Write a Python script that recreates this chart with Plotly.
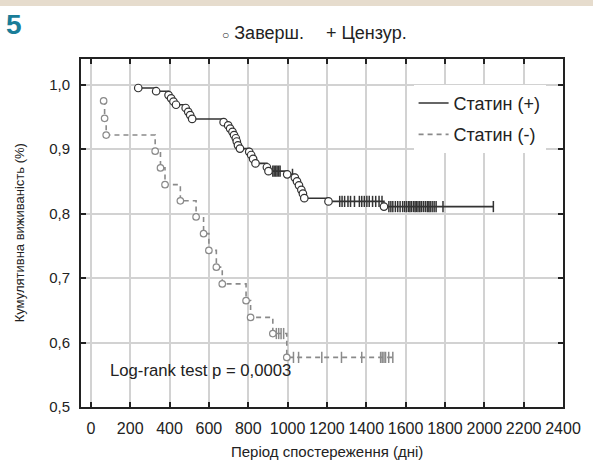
import plotly.graph_objects as go

# ---- data ----
pos_event_days = [241, 332, 395, 408, 420, 433, 482, 495, 505, 515, 675, 698, 708, 720, 728, 737, 742, 748,
                  758, 805, 815, 825, 837, 895, 903, 998, 1037, 1048, 1058, 1070, 1078, 1085, 1208, 1490]
pos_event_surv = [0.995, 0.990, 0.984, 0.979, 0.974, 0.969, 0.964, 0.958, 0.953, 0.947, 0.942, 0.937, 0.932,
                  0.927, 0.922, 0.917, 0.912, 0.906, 0.901, 0.896, 0.891, 0.885, 0.878, 0.872, 0.866, 0.861,
                  0.856, 0.850, 0.844, 0.837, 0.831, 0.824, 0.819, 0.811]
pos_cens_days = [925, 932, 940, 947, 955, 962, 1025,
                 1265, 1277, 1290, 1307, 1320, 1340, 1365, 1377, 1390, 1403, 1415, 1432, 1448, 1465, 1480,
                 1515, 1525, 1535, 1548, 1560, 1572, 1585, 1595, 1605, 1615, 1622, 1630, 1640, 1648, 1655,
                 1663, 1672, 1680, 1690, 1700, 1710, 1718, 1725, 1735, 1745, 1755, 1790, 2046]
pos_cens_surv = [0.866, 0.866, 0.866, 0.866, 0.866, 0.866, 0.861,
                 0.819, 0.819, 0.819, 0.819, 0.819, 0.819, 0.819, 0.819, 0.819, 0.819, 0.819, 0.819, 0.819,
                 0.819, 0.819,
                 0.811, 0.811, 0.811, 0.811, 0.811, 0.811, 0.811, 0.811, 0.811, 0.811, 0.811, 0.811, 0.811,
                 0.811, 0.811, 0.811, 0.811, 0.811, 0.811, 0.811, 0.811, 0.811, 0.811, 0.811, 0.811, 0.811,
                 0.811, 0.811]

neg_event_days = [65, 70, 78, 327, 354, 377, 455, 535, 573, 600, 638, 668, 789, 812, 925, 996]
neg_event_surv = [0.975, 0.948, 0.922, 0.897, 0.871, 0.845, 0.820, 0.795, 0.769, 0.743, 0.717, 0.691,
                  0.665, 0.639, 0.614, 0.577]
neg_cens_days = [943, 955, 967, 980, 1030, 1056, 1174, 1274, 1377, 1473, 1481, 1490, 1498, 1514, 1535]
neg_cens_surv = [0.614, 0.614, 0.614, 0.614, 0.577, 0.577, 0.577, 0.577, 0.577, 0.577, 0.577, 0.577,
                 0.577, 0.577, 0.577]

x_ticks = [0, 200, 400, 600, 800, 1000, 1200, 1400, 1600, 1800, 2000, 2200, 2400]
y_ticks = [0.5, 0.6, 0.7, 0.8, 0.9, 1.0]
y_ticktext = ["0,5", "0,6", "0,7", "0,8", "0,9", "1,0"]

series_names = ["Статин (+)", "Статин (-)"]
header_done = "Заверш."
header_cens = "Цензур."
x_title = "Період спостереження (дні)"
y_title = "Кумулятивна виживаність (%)"
logrank_text = "Log-rank test p = 0,0003"
panel_label = "5"

FONT = "Liberation Sans, Arial, sans-serif"
DARK = "#333333"
GREY = "#8a8a8a"
TXT = "#222222"


def step_points(ev_d, ev_s, ce_d, ce_s):
    pts = sorted(list(zip(ev_d, ev_s)) + list(zip(ce_d, ce_s)), key=lambda p: p[0])
    return [p[0] for p in pts], [p[1] for p in pts]


fig = go.Figure()

px_, py_ = step_points(pos_event_days, pos_event_surv, pos_cens_days, pos_cens_surv)
nx_, ny_ = step_points(neg_event_days, neg_event_surv, neg_cens_days, neg_cens_surv)

fig.add_trace(go.Scatter(x=px_, y=py_, mode="lines", line=dict(color=DARK, width=1.6, shape="hv"),
                         name=series_names[0], legendgroup="a"))
fig.add_trace(go.Scatter(x=nx_, y=ny_, mode="lines", line=dict(color=GREY, width=1.6, shape="hv", dash="5px,4px"),
                         name=series_names[1], legendgroup="b"))

# censored marks
fig.add_trace(go.Scatter(x=pos_cens_days, y=pos_cens_surv, mode="markers", showlegend=False,
                         marker=dict(symbol="line-ns", size=8, line=dict(color=DARK, width=1.5))))
fig.add_trace(go.Scatter(x=neg_cens_days, y=neg_cens_surv, mode="markers", showlegend=False,
                         marker=dict(symbol="line-ns", size=8, line=dict(color=GREY, width=1.5))))
# events
fig.add_trace(go.Scatter(x=pos_event_days, y=pos_event_surv, mode="markers", showlegend=False,
                         marker=dict(symbol="circle", size=7.5, color="white", line=dict(color=DARK, width=1.2))))
fig.add_trace(go.Scatter(x=neg_event_days, y=neg_event_surv, mode="markers", showlegend=False,
                         marker=dict(symbol="circle", size=6.5, color="white", line=dict(color=GREY, width=1.2))))

axis_common = dict(showline=True, mirror="ticks", linecolor=TXT, linewidth=2,
                   ticks="inside", ticklen=5, tickwidth=1.5, tickcolor=TXT,
                   showgrid=True, gridcolor="#d2d2d2", gridwidth=1.5, zeroline=False)

fig.update_xaxes(range=[-50, 2400], tickvals=x_ticks, ticktext=[str(v) for v in x_ticks],
                 ticklabelstandoff=6, tickfont=dict(family=FONT, size=16, color=TXT), **axis_common)
fig.update_yaxes(range=[0.5, 1.04], tickvals=y_ticks, ticktext=y_ticktext,
                 ticklabelstandoff=6, tickfont=dict(family=FONT, size=15, color=TXT), **axis_common)

fig.add_shape(type="rect", xref="paper", yref="paper", x0=-0.2, x1=1.1, y0=1.152, y1=1.21,
              fillcolor="#e6dccd", line=dict(width=0), layer="above")

fig.add_annotation(text=f"<b>{panel_label}</b>", xref="paper", yref="paper", x=-0.16, y=1.1,
                   xanchor="left", yanchor="middle", showarrow=False,
                   font=dict(family=FONT, size=28, color="#1a7d98"))
fig.add_annotation(text=f"<span style='font-size:12px'>○</span> {header_done}", xref="paper", yref="paper",
                   x=0.288, y=1.075, xanchor="left", yanchor="middle", showarrow=False,
                   font=dict(family=FONT, size=18, color=TXT))
fig.add_annotation(text=f"+ {header_cens}", xref="paper", yref="paper",
                   x=0.505, y=1.075, xanchor="left", yanchor="middle", showarrow=False,
                   font=dict(family=FONT, size=18, color=TXT))
fig.add_annotation(text=x_title, xref="paper", yref="paper", x=0.51, y=-0.129,
                   xanchor="center", yanchor="middle", showarrow=False,
                   font=dict(family=FONT, size=15, color=TXT))
fig.add_annotation(text=y_title, xref="paper", yref="paper", x=-0.128, y=0.5, textangle=-90,
                   xanchor="center", yanchor="middle", showarrow=False,
                   font=dict(family=FONT, size=13, color=TXT))
fig.add_annotation(text=logrank_text, xref="x", yref="y", x=85, y=0.556,
                   xanchor="left", yanchor="middle", showarrow=False,
                   font=dict(family=FONT, size=16.7, color=TXT))

fig.update_layout(
    width=593, height=464,
    margin=dict(l=81, r=21, t=59, b=57),
    paper_bgcolor="white", plot_bgcolor="white",
    showlegend=True,
    legend=dict(x=0.69, y=0.926, xanchor="left", yanchor="top", bgcolor="white",
                font=dict(family=FONT, size=18, color=TXT),
                traceorder="grouped", tracegroupgap=5, itemwidth=30),
)

fig.write_html("out.html", post_script="document.body.style.margin='0';",
               config={"displayModeBar": False})
